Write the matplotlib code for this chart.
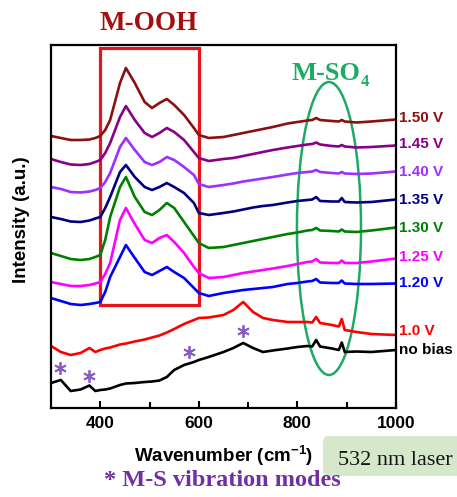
import matplotlib
matplotlib.use("Agg")
import matplotlib.pyplot as plt
from matplotlib.patches import Rectangle, Ellipse, FancyBboxPatch
from matplotlib.transforms import blended_transform_factory

plt.rcParams['font.family'] = ['Liberation Sans', 'DejaVu Sans']
plt.rcParams['mathtext.fontset'] = 'custom'
plt.rcParams['mathtext.rm'] = 'Liberation Sans'
plt.rcParams['mathtext.bf'] = 'Liberation Sans:bold'

# ---- data ----
wavenumber = [300, 320, 340, 360, 378, 390, 400, 410, 420, 440, 452, 470, 490, 505, 520,
              535, 550, 570, 590, 600, 620, 650, 670, 690, 710, 730, 750, 780, 800, 820,
              830, 838, 846, 870, 884, 890, 896, 920, 950, 1000]

v150 = [272, 270, 268, 268, 268.5, 270, 272, 278, 288, 325, 340, 325, 306, 300, 305,
        309, 303, 293, 280, 273, 270, 271, 273, 275, 277, 279, 281, 284.5, 286, 287.5,
        288, 290, 288, 287, 286.5, 288, 286.5, 285.5, 286.5, 288.5]
v145 = [249, 246, 243.5, 243, 244, 246, 248, 255, 265, 291, 302, 288, 275, 271, 275,
        280, 276, 268, 256, 250, 247, 249, 250, 252, 254, 256, 258, 260.5, 262, 263.5,
        264, 265.5, 263.5, 262, 261.5, 263, 261.5, 260.5, 261, 262.5]
v140 = [221, 219, 216, 215.5, 216.5, 218, 220, 226, 235, 261, 270, 258, 246, 243, 246,
        251, 248, 241, 233, 224, 221, 223, 224.5, 226.5, 228, 229.5, 231, 233.5, 235, 236,
        236.5, 238, 236, 235, 234.5, 236, 234.5, 234, 234.5, 236.5]
v135 = [191, 189, 186.5, 186, 187.5, 189.5, 191, 200, 211, 236, 243, 231, 221, 218, 221,
        225, 221, 215, 205, 195, 193, 195, 196.5, 198.5, 200.5, 202, 203, 205.5, 207, 208,
        208.5, 211, 207, 206.5, 206.5, 210, 206, 205.5, 206, 208.5]
v130 = [155, 152, 149, 148, 149, 151, 153, 168, 191, 221, 231, 211, 196, 193, 198,
        205, 200, 186, 172, 165, 160, 161, 163, 165, 167, 169, 171, 174, 175.5, 177.5,
        178, 180, 177.5, 177, 176.5, 178.5, 176.5, 176, 177.5, 180.5]
v125 = [126, 124, 122, 122, 123, 124.5, 126, 134, 145, 188, 200, 184, 168, 165, 170,
        173, 166, 155, 141, 135, 130, 131, 133, 135, 136.5, 138, 139.5, 142, 144, 146,
        146.5, 149, 145.5, 145, 145, 147.5, 145, 145, 146.5, 149.5]
v120 = [110, 107, 104, 103, 104, 105, 106, 116, 131, 151, 163, 150, 136, 133, 137,
        141, 136, 130, 120, 115, 112, 115, 116.5, 118, 119, 120, 121, 124, 125, 126.5,
        127, 129, 125.5, 125, 125, 127.5, 124.5, 124, 124, 124.5]
v100 = [62, 56, 53, 55, 60, 56, 58, 59.5, 60.5, 63.5, 64.5, 66.5, 68.5, 70.5, 72.5,
        75.5, 79, 84, 88, 90, 90.5, 93, 98, 106, 96, 90, 88, 86, 86, 86,
        85.5, 91, 85, 83, 81.5, 89, 78, 76, 74, 73]
vnobias = [25, 28, 17, 18.5, 22.5, 17, 18, 18.5, 19.5, 23, 24.5, 25, 26, 26.5, 27.5,
           31, 38, 43, 46, 48, 51, 56, 60, 65, 60, 56, 57.5, 59.5, 61, 62,
           61.5, 68, 61.5, 59.5, 58, 65.5, 56, 56.5, 56, 58]

series_labels = ["1.50 V", "1.45 V", "1.40 V", "1.35 V", "1.30 V", "1.25 V", "1.20 V", "1.0 V", "no bias"]
label_y = [290, 264, 236, 208, 180, 151, 125, 77, 58]

star_x = [318, 378, 580, 690]
star_y = [40, 32, 56, 77]

xticks_major = [400, 600, 800, 1000]
xticks_minor = [500, 700, 900]

# ---- figure ----
colors = ["#8B1010", "#880088", "#9B30FF", "#000080", "#008000", "#FF00FF", "#0000FF", "#FF0000", "#000000"]
series = [v150, v145, v140, v135, v130, v125, v120, v100, vnobias]

fig = plt.figure(figsize=(4.57, 4.97), dpi=100)
ax = fig.add_axes([51/457, 1-408/497, 345/457, 363/497])

for vals, c in zip(series, colors):
    ax.plot(wavenumber, vals, color=c, lw=1.9, solid_joinstyle='round')

ax.set_xlim(300, 1000)
ax.set_ylim(0, 363)
ax.set_yticks([])
ax.set_xticks(xticks_major)
ax.set_xticks(xticks_minor, minor=True)
ax.tick_params(axis='x', which='both', direction='in', width=1.5)
ax.tick_params(axis='x', which='major', length=5, pad=6, labelsize=12.5)
ax.tick_params(axis='x', which='minor', length=4)
for lab in ax.get_xticklabels():
    lab.set_fontweight('bold')
for s in ax.spines.values():
    s.set_linewidth(1.6)

# right side labels
tr = blended_transform_factory(ax.transAxes, ax.transData)
for lab, y, c in zip(series_labels, label_y, colors):
    ax.text(1.008, y, lab, transform=tr, color=c, fontsize=11, fontweight='bold',
            ha='left', va='center', clip_on=False)

# asterisks
ax.plot(star_x, star_y, ls='none', marker=(6, 2, 0), ms=9, mew=1.3, color='#8A5CC0')

# M-OOH box
ax.add_patch(Rectangle((400, 103), 200, 257, fill=False, ec='#E8141B', lw=2.3, clip_on=False))
# M-SO4 ellipse
ax.add_patch(Ellipse((864, 179.5), 130, 293, fill=False, ec='#1EAA62', lw=1.8, clip_on=False))

# texts
fig.text(148.5/457, 1-29.5/497, "M-OOH", family='Liberation Serif', fontweight='bold',
         fontsize=19.5, color='#A50F0F', ha='center', va='baseline')
fig.text(292/457, 1-80/497, "M-SO", family='Liberation Serif', fontweight='bold',
         fontsize=19, color='#1EAA62', ha='left', va='baseline')
fig.text(361/457, 1-86/497, "4", family='Liberation Serif', fontweight='bold',
         fontsize=12, color='#1EAA62', ha='left', va='baseline')

fig.text(22/457, 1-220/497, "Intensity (a.u.)", rotation=90, fontsize=13.5, fontweight='bold',
         ha='center', va='center')
fig.text(224/457, 1-462/497, r"Wavenumber (cm$^{\mathbf{-1}}$)", fontsize=13.5, fontweight='bold',
         ha='center', va='baseline')

box = FancyBboxPatch((323/457, 1-476/497), 150/457, 40/497, boxstyle="round,pad=0,rounding_size=0.012",
                     transform=fig.transFigure, fc='#D5E8CC', ec='none', clip_on=False)
fig.patches.append(box)
fig.text(395/457, 1-465/497, "532 nm laser", family='Liberation Serif', fontsize=16,
         color='#151515', ha='center', va='baseline')
fig.text(222/457, 1-486/497, "* M-S vibration modes", family='Liberation Serif', fontweight='bold',
         fontsize=17.5, color='#7030A0', ha='center', va='baseline')

fig.savefig("out.png", dpi=100)
